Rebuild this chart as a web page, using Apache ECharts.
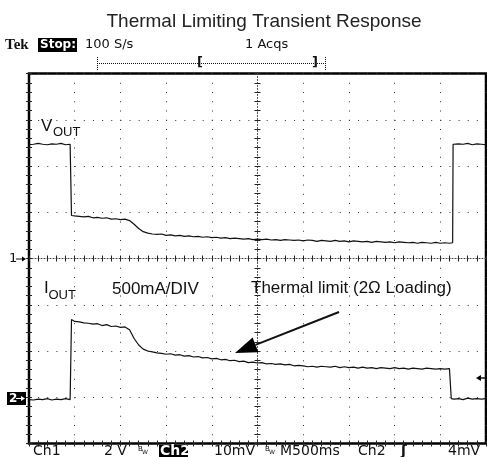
<!DOCTYPE html>
<html>
<head>
<meta charset="utf-8">
<script src="https://cdn.jsdelivr.net/npm/echarts@6/dist/echarts.min.js"></script>
<style>
  html, body { margin: 0; padding: 0; background: #fff; }
  #chart { width: 487px; height: 457px; }
</style>
</head>
<body>
<div id="chart"></div>
<script>
  // scope screen in divisions: 10 horizontal (500ms/div), 8 vertical
  var xDivs = 10
  var yDivs = 8

  // [time div, level div]
  var voutData = [
    [0, 6.46], [0.1, 6.47], [0.2, 6.49], [0.3, 6.47], [0.4, 6.46], [0.5, 6.48], [0.6, 6.47], [0.7, 6.49],
    [0.8, 6.46], [0.9, 6.47], [0.92, 6.47], [0.93, 4.93],
    [1.0, 4.92], [1.1, 4.91], [1.2, 4.90], [1.3, 4.91], [1.4, 4.88], [1.5, 4.89], [1.6, 4.87], [1.7, 4.88],
    [1.8, 4.85], [1.9, 4.86], [2.0, 4.84], [2.1, 4.85], [2.2, 4.82], [2.3, 4.74], [2.4, 4.65], [2.5, 4.58],
    [2.6, 4.55], [2.7, 4.53], [2.8, 4.52], [2.9, 4.53], [3.0, 4.50], [3.1, 4.51], [3.2, 4.49], [3.3, 4.50],
    [3.4, 4.48], [3.5, 4.49], [3.6, 4.47], [3.7, 4.48], [3.8, 4.46], [3.9, 4.47], [4.0, 4.45], [4.1, 4.46],
    [4.2, 4.44], [4.3, 4.45], [4.4, 4.43], [4.5, 4.44], [4.6, 4.43], [4.7, 4.42], [4.8, 4.43], [4.9, 4.41],
    [5.0, 4.42], [5.1, 4.41], [5.2, 4.42], [5.3, 4.40], [5.4, 4.41], [5.5, 4.39], [5.6, 4.41], [5.7, 4.40],
    [5.8, 4.39], [5.9, 4.40], [6.0, 4.38], [6.1, 4.40], [6.2, 4.39], [6.3, 4.37], [6.4, 4.39], [6.5, 4.38],
    [6.6, 4.37], [6.7, 4.39], [6.8, 4.37], [6.9, 4.38], [7.0, 4.36], [7.1, 4.38], [7.2, 4.37], [7.3, 4.36],
    [7.4, 4.37], [7.5, 4.35], [7.6, 4.37], [7.7, 4.36], [7.8, 4.35], [7.9, 4.36], [8.0, 4.34], [8.1, 4.36],
    [8.2, 4.35], [8.3, 4.34], [8.4, 4.35], [8.5, 4.33], [8.6, 4.35], [8.7, 4.34], [8.8, 4.33], [8.9, 4.35],
    [9.0, 4.33], [9.1, 4.34], [9.2, 4.33], [9.27, 4.34], [9.28, 6.47],
    [9.3, 6.46], [9.4, 6.48], [9.5, 6.47], [9.6, 6.49], [9.7, 6.46], [9.8, 6.48], [9.9, 6.47], [10, 6.46]
  ]

  var ioutData = [
    [0, 0.95], [0.1, 0.94], [0.2, 0.96], [0.3, 0.95], [0.4, 0.97], [0.5, 0.94], [0.6, 0.96], [0.7, 0.95],
    [0.8, 0.97], [0.9, 0.95], [0.92, 0.95], [0.93, 2.68],
    [1.0, 2.64], [1.1, 2.63], [1.2, 2.61], [1.3, 2.60], [1.4, 2.58], [1.5, 2.59], [1.6, 2.55], [1.7, 2.57],
    [1.8, 2.53], [1.9, 2.54], [2.0, 2.51], [2.1, 2.52], [2.2, 2.46], [2.3, 2.27], [2.4, 2.13], [2.5, 2.04],
    [2.6, 2.00], [2.7, 1.98], [2.8, 1.96], [2.9, 1.95], [3.0, 1.93], [3.1, 1.94], [3.2, 1.91], [3.3, 1.92],
    [3.4, 1.89], [3.5, 1.90], [3.6, 1.87], [3.7, 1.88], [3.8, 1.85], [3.9, 1.86], [4.0, 1.83], [4.1, 1.84],
    [4.2, 1.81], [4.3, 1.82], [4.4, 1.79], [4.5, 1.80], [4.6, 1.77], [4.7, 1.78], [4.8, 1.75], [4.9, 1.76],
    [5.0, 1.74], [5.1, 1.75], [5.2, 1.72], [5.3, 1.73], [5.4, 1.71], [5.5, 1.72], [5.6, 1.70], [5.7, 1.71],
    [5.8, 1.68], [5.9, 1.69], [6.0, 1.68], [6.1, 1.66], [6.2, 1.67], [6.3, 1.65], [6.4, 1.67], [6.5, 1.66],
    [6.6, 1.65], [6.7, 1.67], [6.8, 1.64], [6.9, 1.66], [7.0, 1.64], [7.1, 1.65], [7.2, 1.63], [7.3, 1.65],
    [7.4, 1.63], [7.5, 1.64], [7.6, 1.62], [7.7, 1.64], [7.8, 1.63], [7.9, 1.62], [8.0, 1.64], [8.1, 1.62],
    [8.2, 1.63], [8.3, 1.61], [8.4, 1.63], [8.5, 1.62], [8.6, 1.61], [8.7, 1.63], [8.8, 1.62], [8.9, 1.61],
    [9.0, 1.62], [9.1, 1.61], [9.2, 1.62], [9.23, 1.62], [9.24, 0.97],
    [9.3, 0.96], [9.4, 0.97], [9.5, 0.95], [9.6, 0.98], [9.7, 0.96], [9.8, 0.97], [9.9, 0.96], [10, 0.97]
  ]

  var titleText = 'Thermal Limiting Transient Response'
  var statusTop = ['100 S/s', '1 Acqs']
  var statusBottom = ['Ch1', '2 V', 'Ch2', '10mV', 'M500ms', 'Ch2', '4mV']

  var gridLeft = 29
  var gridTop = 73.5
  var gridW = 457
  var gridH = 370

  var sans = '"Liberation Sans", Arial, sans-serif'
  var scope = '"DejaVu Sans", sans-serif'

  var tickStyle = { color: '#222', width: 1 }

  function edgeX(pos) {
    return {
      type: 'value', position: pos, min: 0, max: xDivs, interval: 1,
      axisLine: { show: false },
      axisLabel: { show: false },
      axisTick: { show: true, inside: true, length: 3, lineStyle: tickStyle },
      minorTick: { show: true, splitNumber: 5, length: 3, lineStyle: tickStyle },
      splitLine: { show: false }
    }
  }
  function edgeY(pos) {
    return {
      type: 'value', position: pos, min: 0, max: yDivs, interval: 1,
      axisLine: { show: false },
      axisLabel: { show: false },
      axisTick: { show: true, inside: true, length: 3, lineStyle: tickStyle },
      minorTick: { show: true, splitNumber: 5, length: 3, lineStyle: tickStyle },
      splitLine: { show: false }
    }
  }
  // centre cross lines: two axes on the same spot, ticks on both sides
  function centreX(inside) {
    var a = edgeX('bottom')
    a.offset = -gridH / 2
    a.axisTick.inside = inside
    a.axisLine = { show: inside, lineStyle: { color: '#444', width: 1, type: [1, 2] } }
    return a
  }
  function centreY(inside) {
    var a = edgeY('left')
    a.offset = -gridW / 2
    a.axisTick.inside = inside
    a.axisLine = { show: inside, lineStyle: { color: '#444', width: 1, type: [1, 2] } }
    return a
  }

  var xMain = edgeX('bottom')
  xMain.splitLine = { show: true, lineStyle: { color: '#333', width: 1, type: [1, gridH / yDivs / 5 - 1] } }
  var yMain = edgeY('left')
  yMain.splitLine = { show: true, lineStyle: { color: '#333', width: 1, type: [1, gridW / xDivs / 5 - 1] } }

  function txt(text, x, y, font, opts) {
    opts = opts || {}
    return {
      type: 'text', x: x, y: y, z: 100,
      style: {
        text: text, font: font, fill: opts.fill || '#111',
        align: opts.align || 'left', textAlign: opts.align || 'left',
        verticalAlign: 'middle', textVerticalAlign: 'middle'
      }
    }
  }
  function box(x, y, w, h) {
    return { type: 'rect', z: 99, shape: { x: x, y: y, width: w, height: h }, style: { fill: '#000' } }
  }
  function seg(x1, y1, x2, y2, w, dash) {
    return {
      type: 'line', z: 100, shape: { x1: x1, y1: y1, x2: x2, y2: y2 },
      style: { stroke: '#111', lineWidth: w, lineDash: dash || null }
    }
  }

  var chart = echarts.init(document.getElementById('chart'), null, { renderer: 'canvas' })
  chart.setOption({
    animation: false,
    backgroundColor: '#fff',
    grid: {
      left: gridLeft, top: gridTop, width: gridW, height: gridH,
      show: true, borderColor: '#000', borderWidth: 2.5, backgroundColor: '#fff'
    },
    xAxis: [xMain, edgeX('top'), centreX(true), centreX(false)],
    yAxis: [yMain, edgeY('right'), centreY(true), centreY(false)],
    series: [{
      name: 'VOUT', type: 'line', xAxisIndex: 0, yAxisIndex: 0,
      showSymbol: false, silent: true,
      lineStyle: { color: '#111', width: 1.2 },
      data: voutData
    }, {
      name: 'IOUT', type: 'line', xAxisIndex: 0, yAxisIndex: 0,
      showSymbol: false, silent: true,
      lineStyle: { color: '#111', width: 1.2 },
      data: ioutData
    }],
    graphic: { elements: [
      txt(titleText, 264, 22, '19px ' + sans, { align: 'center', fill: '#222' }),
      // top status line
      txt('Tek', 5, 45, 'bold 15px "Liberation Serif", serif'),
      box(38, 38, 39, 14),
      txt('Stop:', 40, 45, 'bold 12px ' + scope, { fill: '#fff' }),
      txt(statusTop[0], 85, 45, '13px ' + scope),
      txt(statusTop[1], 245, 45, '13px ' + scope),
      seg(97, 63.5, 325, 63.5, 1, [1, 1]),
      seg(97.5, 57, 97.5, 70, 1, [1, 1]),
      seg(325.5, 57, 325.5, 70, 1, [1, 1]),
      txt('[', 197, 63, 'bold 13px ' + scope),
      txt(']', 312, 63, 'bold 13px ' + scope),
      // channel labels
      txt('V', 41, 126, '17px ' + sans),
      txt('OUT', 53, 132.5, '13px ' + sans),
      txt('I', 44, 288.5, '17px ' + sans),
      txt('OUT', 48.5, 295, '13px ' + sans),
      txt('500mA/DIV', 112, 289, '17px ' + sans),
      txt('Thermal limit (2Ω Loading)', 251, 288.5, '17px ' + sans),
      // arrow to the current trace
      seg(339, 312, 255.5, 344.9, 2),
      { type: 'polygon', z: 100, shape: { points: [[235, 353], [258.4, 352.3], [252.6, 337.5]] }, style: { fill: '#000' } },
      // ground markers
      txt('1', 9, 259, '13px ' + scope),
      seg(16, 259, 24, 259, 1),
      { type: 'polygon', z: 100, shape: { points: [[26, 259], [22, 256.5], [22, 261.5]] }, style: { fill: '#000' } },
      box(7, 392, 19, 13),
      txt('2', 9, 398.5, 'bold 12px ' + scope, { fill: '#fff' }),
      { type: 'line', z: 100, shape: { x1: 16, y1: 398.5, x2: 22, y2: 398.5 }, style: { stroke: '#fff', lineWidth: 1 } },
      { type: 'polygon', z: 100, shape: { points: [[25, 398.5], [21, 396], [21, 401]] }, style: { fill: '#fff' } },
      // trigger level marker
      { type: 'polygon', z: 100, shape: { points: [[476, 378], [481, 375], [481, 381]] }, style: { fill: '#000' } },
      seg(480, 378, 485, 378, 1.5),
      // bottom status line
      txt(statusBottom[0], 33, 451, '14px ' + scope),
      txt(statusBottom[1], 104, 451, '14px ' + scope),
      txt('B', 138, 449, '7px ' + scope),
      txt('W', 142, 452, '6px ' + scope),
      box(159, 445, 29, 13),
      txt(statusBottom[2], 160, 451, 'bold 14px ' + scope, { fill: '#fff' }),
      txt(statusBottom[3], 214, 451, '14px ' + scope),
      txt('B', 265, 449, '7px ' + scope),
      txt('W', 269, 452, '6px ' + scope),
      txt(statusBottom[4], 280, 451, '14px ' + scope),
      txt(statusBottom[5], 358, 451, '14px ' + scope),
      txt('ʃ', 401, 451, 'bold 14px ' + scope),
      txt(statusBottom[6], 448, 451, '14px ' + scope)
    ] }
  })
</script>
</body>
</html>
